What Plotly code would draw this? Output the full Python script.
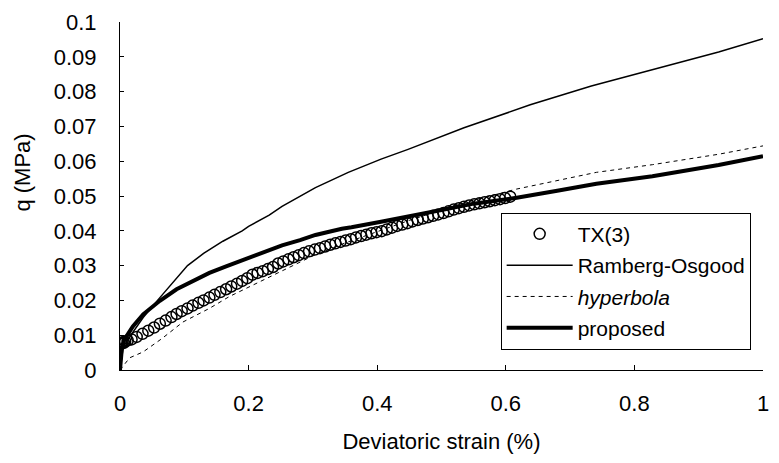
import plotly.graph_objects as go

# TX(3) measured points
tx_strain = [0.002, 0.004, 0.006, 0.008, 0.012, 0.018, 0.026, 0.035, 0.044, 0.053,
             0.062, 0.071, 0.080, 0.088, 0.096, 0.105, 0.113, 0.122, 0.130, 0.139,
             0.147, 0.156, 0.165, 0.173, 0.182, 0.190, 0.198, 0.206, 0.214, 0.222,
             0.230, 0.238, 0.246, 0.254, 0.262, 0.270, 0.278, 0.286, 0.294, 0.303,
             0.311, 0.319, 0.327, 0.335, 0.343, 0.351, 0.359, 0.367, 0.375, 0.383,
             0.391, 0.399, 0.407, 0.415, 0.423, 0.431, 0.439, 0.447, 0.455, 0.463,
             0.471, 0.479, 0.487, 0.495, 0.503, 0.511, 0.519, 0.527, 0.535, 0.543,
             0.551, 0.559, 0.567, 0.575, 0.583, 0.591, 0.599, 0.607]
tx_q = [0.0075, 0.0080, 0.0078, 0.0082, 0.0085, 0.0088, 0.0095, 0.0104, 0.0113, 0.0122,
        0.0133, 0.0142, 0.0152, 0.0161, 0.0169, 0.0177, 0.0185, 0.0193, 0.0200, 0.0208,
        0.0216, 0.0224, 0.0232, 0.0240, 0.0248, 0.0256, 0.0264, 0.0274, 0.0279, 0.0284,
        0.0290, 0.0296, 0.0306, 0.0312, 0.0318, 0.0324, 0.0330, 0.0336, 0.0341, 0.0346,
        0.0350, 0.0355, 0.0360, 0.0364, 0.0368, 0.0372, 0.0376, 0.0381, 0.0385, 0.0389,
        0.0393, 0.0396, 0.0399, 0.0404, 0.0409, 0.0414, 0.0418, 0.0422, 0.0427, 0.0431,
        0.0435, 0.0439, 0.0443, 0.0447, 0.0451, 0.0456, 0.0461, 0.0465, 0.0469, 0.0473,
        0.0476, 0.0479, 0.0482, 0.0485, 0.0488, 0.0491, 0.0494, 0.0498]

# Ramberg-Osgood model
ro_strain = [0, 0.005, 0.015, 0.036, 0.062, 0.085, 0.105, 0.130, 0.160, 0.190, 0.200,
             0.232, 0.252, 0.304, 0.355, 0.406, 0.448, 0.535, 0.638, 0.733, 0.828, 0.931, 1.0]
ro_q = [0, 0.0066, 0.0095, 0.0151, 0.0208, 0.0258, 0.0300, 0.0335, 0.0370, 0.0400, 0.0413,
        0.0445, 0.0470, 0.0524, 0.0568, 0.0606, 0.0634, 0.0696, 0.0762, 0.0816, 0.0862, 0.0914, 0.0952]

# hyperbola model
hy_strain = [0, 0.015, 0.036, 0.065, 0.098, 0.139, 0.170, 0.200, 0.250, 0.300, 0.350,
             0.400, 0.450, 0.500, 0.550, 0.617, 0.680, 0.741, 0.828, 0.931, 1.0]
hy_q = [0, 0.0035, 0.0052, 0.0090, 0.0138, 0.0177, 0.0211, 0.0238, 0.0285, 0.0328, 0.0365,
        0.0398, 0.0430, 0.0460, 0.0488, 0.0520, 0.0545, 0.0568, 0.0590, 0.0620, 0.0644]

# proposed model
pr_strain = [0, 0.003, 0.006, 0.020, 0.036, 0.062, 0.088, 0.115, 0.139, 0.165, 0.190,
             0.232, 0.252, 0.280, 0.304, 0.345, 0.360, 0.406, 0.448, 0.500, 0.550, 0.617,
             0.680, 0.741, 0.828, 0.931, 1.0]
pr_q = [0, 0.0065, 0.0085, 0.0125, 0.0160, 0.0199, 0.0232, 0.0258, 0.0279, 0.0298, 0.0315,
        0.0344, 0.0358, 0.0373, 0.0388, 0.0406, 0.0410, 0.0426, 0.0440, 0.0460, 0.0478, 0.0495,
        0.0515, 0.0535, 0.0557, 0.0589, 0.0614]

x_ticks = [0, 0.2, 0.4, 0.6, 0.8, 1]
x_ticklabels = ["0", "0.2", "0.4", "0.6", "0.8", "1"]
y_ticks = [0, 0.01, 0.02, 0.03, 0.04, 0.05, 0.06, 0.07, 0.08, 0.09, 0.1]
y_ticklabels = ["0", "0.01", "0.02", "0.03", "0.04", "0.05", "0.06", "0.07", "0.08", "0.09", "0.1"]

FONT = "Liberation Sans, Arial, sans-serif"

fig = go.Figure()
fig.add_trace(go.Scatter(x=ro_strain, y=ro_q, mode="lines", name="Ramberg-Osgood",
                         line=dict(color="black", width=1.5), legendrank=2, legendgroup="b"))
fig.add_trace(go.Scatter(x=hy_strain, y=hy_q, mode="lines", name="<i>hyperbola</i>",
                         line=dict(color="black", width=1, dash="4px,4px"), legendrank=3, legendgroup="c"))
fig.add_trace(go.Scatter(x=pr_strain, y=pr_q, mode="lines", name="proposed",
                         line=dict(color="black", width=4), legendrank=4, legendgroup="d"))
fig.add_trace(go.Scatter(x=tx_strain, y=tx_q, mode="markers", name="TX(3)",
                         marker=dict(symbol="circle-open", size=11, color="black",
                                     line=dict(width=1.5, color="black")),
                         legendrank=1, legendgroup="a"))

fig.update_layout(
    width=779, height=463,
    margin=dict(l=120, r=10, t=18, b=93),
    paper_bgcolor="white", plot_bgcolor="white",
    font=dict(family=FONT, size=22, color="black"),
    showlegend=True,
    legend=dict(x=0.592, y=0.452, xanchor="left", yanchor="top",
                bordercolor="black", borderwidth=1, bgcolor="white",
                font=dict(family=FONT, size=21, color="black"),
                itemwidth=66, tracegroupgap=1),
    xaxis=dict(range=[0, 1], tickvals=x_ticks, ticktext=x_ticklabels,
               showgrid=False, zeroline=False, showline=True, linecolor="black", linewidth=1,
               ticks="inside", ticklen=5, tickcolor="black", ticklabelstandoff=14,
               title=dict(text="Deviatoric strain (%)", standoff=18,
                          font=dict(family=FONT, size=22))),
    yaxis=dict(range=[0, 0.1], tickvals=y_ticks, ticktext=y_ticklabels,
               showgrid=False, zeroline=False, showline=True, linecolor="black", linewidth=1,
               ticks="inside", ticklen=4, tickcolor="black", ticklabelstandoff=18),
    annotations=[dict(text="q (MPa)", textangle=-90, xref="paper", yref="paper",
                      x=-0.152, y=0.568, xanchor="center", yanchor="middle",
                      showarrow=False, font=dict(family=FONT, size=22, color="black"))],
)

fig.write_html("out.html")
